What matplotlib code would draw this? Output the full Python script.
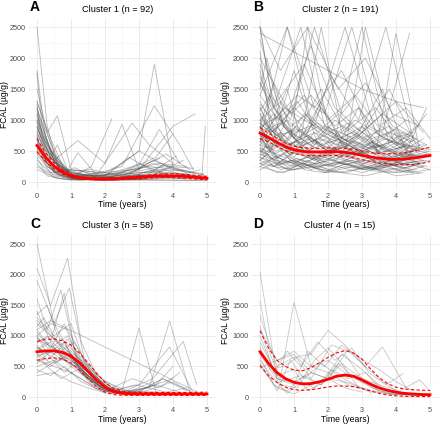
import numpy as np
import matplotlib
matplotlib.use("Agg")
import matplotlib.pyplot as plt

plt.rcParams['font.family'] = ['Liberation Sans', 'DejaVu Sans']

# --- individual trajectories (time in years, FCAL in ug/g) ---
traces_a = [
    ([0, 0.3, 0.6, 1.0, 1.5, 2.0], [2500, 900, 300, 150, 100, 80]),
    ([0, 0.25, 0.5, 0.8, 1.2], [1800, 700, 350, 120, 60]),
    ([0, 0.3, 0.6, 1.0, 2.0, 2.5, 3.0, 3.45, 4.0], [1300, 800, 1070, 200, 150, 300, 500, 1900, 250]),
    ([0, 0.4, 0.9, 1.5, 2.5, 3.45, 4.2, 4.6], [1200, 500, 200, 100, 250, 1230, 600, 200]),
    ([0, 0.5, 1.0, 2.0, 3.0, 4.0, 4.65], [1100, 400, 120, 80, 200, 900, 1100]),
    ([0, 0.6, 1.1, 1.6, 2.2], [1000, 300, 100, 250, 1020]),
    ([0, 0.5, 1.2, 2.0, 2.5, 3.0], [950, 350, 670, 300, 930, 200]),
    ([0, 0.4, 1.0, 2.0, 3.0, 4.0, 4.85, 4.95], [900, 400, 100, 50, 100, 150, 80, 900]),
    ([0, 0.3, 0.8, 1.5, 2.5, 3.5, 4.0], [850, 500, 200, 80, 150, 400, 780]),
    ([0, 0.5, 1.0, 1.8, 2.8, 3.3, 4.0], [800, 200, 100, 150, 950, 600, 300]),
    ([0, 0.2, 0.7, 1.2, 2.0, 3.0, 4.0, 5.0], [750, 350, 150, 60, 40, 60, 100, 50]),
    ([0, 0.5, 1.0, 2.0, 3.0, 3.6, 4.2], [700, 150, 80, 120, 280, 850, 300]),
    ([0, 0.3, 0.6, 1.0, 2.0, 3.0, 4.0, 5.0], [650, 300, 600, 60, 100, 500, 200, 100]),
    ([0, 0.4, 0.9, 1.4, 2.4, 3.1, 3.8, 4.5], [600, 200, 80, 50, 60, 250, 450, 200]),
    ([0, 0.5, 1.0, 1.5, 2.0, 3.0, 4.0, 5.0], [550, 150, 50, 40, 30, 40, 60, 40]),
    ([0, 0.3, 0.8, 1.2, 1.8, 2.5, 3.2, 4.1], [500, 250, 100, 470, 80, 150, 100, 420]),
    ([0, 0.4, 1.0, 2.0, 2.7, 3.5, 4.3], [450, 150, 200, 100, 400, 150, 350]),
    ([0, 0.2, 0.5, 1.0, 1.5, 2.0, 3.0, 4.0, 4.8], [400, 200, 120, 60, 40, 60, 40, 80, 200]),
    ([0, 0.5, 1.0, 2.0, 3.0, 4.0, 5.0], [350, 100, 50, 30, 40, 30, 20]),
    ([0, 0.3, 0.7, 1.3, 2.2, 3.0, 3.9, 4.7], [300, 100, 50, 30, 80, 300, 100, 60]),
    ([0, 0.5, 1.0, 1.6, 2.3, 3.3, 4.4], [250, 80, 30, 60, 30, 100, 50]),
    ([0, 0.6, 1.2, 2.0, 2.9, 3.7, 4.5], [200, 60, 30, 50, 100, 200, 100]),
    ([0, 0.1, 0.4, 0.8, 1.0, 1.5, 2.0], [1200, 800, 400, 150, 60, 40, 30]),
    ([0, 0.2, 0.5, 0.9, 1.4, 2.1, 2.9, 3.6], [1150, 900, 500, 100, 180, 120, 220, 380]),
    ([0, 0.3, 0.7, 1.0, 1.6, 2.5, 3.5, 4.5], [1050, 600, 250, 180, 200, 100, 80, 60]),
    ([0, 0.2, 0.5, 1.0, 2.0, 3.0, 3.9], [980, 500, 180, 80, 60, 120, 90]),
    ([0, 0.4, 0.8, 1.3, 2.0, 3.0, 4.0, 5.0], [880, 400, 150, 90, 70, 160, 140, 90]),
    ([0, 0.3, 0.9, 1.7, 2.6, 3.4, 4.2, 4.9], [820, 350, 90, 60, 120, 300, 200, 130]),
    ([0, 0.2, 0.6, 1.1, 1.9, 2.8, 3.7], [720, 450, 200, 70, 50, 90, 250]),
    ([0, 0.3, 0.6, 1.2, 2.1, 3.2, 4.3], [680, 300, 120, 40, 30, 60, 100]),
    ([0, 0.5, 1.0, 1.5, 2.5, 3.5, 4.5, 5.0], [620, 220, 90, 60, 80, 120, 110, 70]),
    ([0, 0.4, 0.7, 1.1, 1.8, 2.6, 3.4, 4.4], [580, 300, 150, 230, 60, 80, 350, 150]),
    ([0, 0.3, 0.8, 1.5, 2.3, 3.1, 4.0, 4.6], [530, 250, 70, 40, 50, 40, 250, 220]),
    ([0, 0.6, 1.3, 2.0, 3.0, 4.0, 5.0], [480, 120, 40, 30, 30, 30, 30]),
    ([0, 0.4, 0.9, 1.7, 2.7, 3.6, 4.3], [1300, 700, 90, 50, 70, 150, 60]),
    ([0, 0.2, 0.6, 1.0, 1.5, 2.5, 3.5, 4.5], [1250, 600, 300, 110, 100, 120, 180, 100]),
    ([0, 0.3, 0.5, 1.0, 2.0, 3.0, 4.0], [1500, 800, 450, 130, 90, 110, 80]),
    ([0, 0.15, 0.5, 0.9, 1.3], [1750, 900, 350, 120, 60]),
    ([0, 0.3, 0.7, 1.2, 1.9, 2.8, 3.6, 4.4], [900, 450, 200, 90, 150, 200, 300, 250]),
    ([0, 0.2, 0.6, 1.0, 1.7, 2.5, 3.3, 4.1, 4.9], [1100, 700, 350, 150, 100, 160, 250, 200, 120]),
    ([0, 0.4, 0.8, 1.4, 2.2, 3.0, 3.8, 4.6], [760, 380, 180, 120, 90, 180, 270, 150]),
    ([0, 0.3, 0.6, 1.1, 1.8, 2.6, 3.5, 4.3], [1000, 550, 260, 110, 70, 90, 200, 180]),
]

traces_b = [
    ([0, 0.4, 0.9, 1.5, 2.0, 2.6, 3.1, 3.7, 4.3, 4.9], [2500, 1200, 800, 600, 900, 500, 700, 400, 600, 500]),
    ([0, 0.3, 0.8, 1.2, 1.8, 2.4, 3.0, 3.6, 4.2, 4.8], [2100, 900, 1500, 700, 2500, 800, 600, 900, 500, 700]),
    ([0, 0.5, 1.0, 1.6, 2.2, 2.9, 3.5, 4.1, 4.7], [1800, 600, 400, 800, 500, 1200, 400, 300, 600]),
    ([0, 0.2, 0.7, 1.3, 1.9, 2.5, 3.2, 3.8, 4.4, 5.0], [1500, 2000, 900, 500, 700, 400, 600, 350, 450, 400]),
    ([0, 0.4, 1.0, 1.7, 2.3, 3.0, 3.7, 4.5], [1200, 700, 1800, 600, 400, 900, 300, 500]),
    ([0, 0.3, 0.9, 1.4, 2.0, 2.7, 3.3, 4.0, 4.6], [1000, 500, 700, 2500, 900, 600, 400, 800, 300]),
    ([0, 0.5, 1.1, 1.8, 2.5, 3.1, 3.9, 4.6], [900, 400, 600, 300, 500, 2500, 700, 400]),
    ([0, 0.4, 0.8, 1.4, 2.1, 2.8, 3.4, 4.0, 4.7], [850, 1100, 500, 400, 300, 600, 450, 2400, 500]),
    ([0, 0.6, 1.2, 1.9, 2.6, 3.3, 4.0, 4.8], [800, 300, 250, 500, 350, 200, 400, 300]),
    ([0, 0.3, 0.7, 1.2, 1.7, 2.3, 2.9, 3.5, 4.2, 4.9], [750, 500, 900, 600, 400, 700, 500, 300, 450, 600]),
    ([0, 0.5, 1.0, 1.5, 2.1, 2.7, 3.4, 4.1, 4.8], [700, 350, 300, 450, 250, 400, 600, 300, 350]),
    ([0, 0.4, 0.9, 1.6, 2.2, 2.9, 3.6, 4.4], [650, 900, 400, 300, 500, 350, 250, 400]),
    ([0, 0.3, 0.8, 1.4, 2.0, 2.6, 3.3, 4.0, 4.7], [600, 400, 250, 350, 200, 300, 400, 250, 300]),
    ([0, 0.5, 1.1, 1.7, 2.4, 3.0, 3.8, 4.5], [550, 300, 500, 350, 600, 400, 300, 200]),
    ([0, 0.4, 1.0, 1.6, 2.3, 3.0, 3.6, 4.3, 5.0], [500, 250, 200, 300, 250, 150, 250, 300, 200]),
    ([0, 0.3, 0.9, 1.5, 2.1, 2.8, 3.5, 4.2, 4.9], [450, 700, 350, 250, 400, 300, 200, 350, 250]),
    ([0, 0.6, 1.3, 2.0, 2.7, 3.4, 4.1, 4.8], [400, 200, 300, 150, 250, 200, 150, 250]),
    ([0, 0.4, 0.8, 1.3, 1.9, 2.5, 3.1, 3.8, 4.6], [350, 250, 400, 200, 150, 300, 200, 150, 200]),
    ([0, 0.5, 1.0, 1.7, 2.4, 3.1, 3.9, 4.7], [300, 150, 200, 250, 150, 100, 200, 150]),
    ([0, 0.3, 0.7, 1.2, 1.8, 2.5, 3.2, 4.0, 4.8], [250, 200, 150, 300, 200, 150, 250, 100, 150]),
    ([0, 0.4, 1.0, 1.6, 2.2, 2.8, 3.4, 4.0, 4.6], [1100, 800, 1200, 900, 700, 1000, 800, 600, 900]),
    ([0, 0.3, 0.8, 1.3, 1.9, 2.6, 3.2, 3.9, 4.5], [1300, 1000, 700, 1100, 800, 600, 900, 700, 800]),
    ([0, 0.5, 1.1, 1.6, 2.2, 2.9, 3.5, 4.2, 4.9], [950, 700, 900, 600, 1000, 700, 500, 800, 600]),
    ([0, 0.4, 0.9, 1.5, 2.1, 2.7, 3.4, 4.1, 4.7], [1050, 800, 600, 900, 650, 800, 550, 700, 450]),
    ([0, 0.3, 0.7, 1.2, 1.8, 2.4, 3.0, 3.7, 4.4], [2500, 1500, 900, 700, 1300, 600, 800, 500, 700]),
    ([0, 0.5, 1.2, 1.9, 2.6, 3.3, 4.0, 4.7], [600, 500, 700, 450, 600, 350, 500, 400]),
    ([0, 0.4, 0.9, 1.4, 2.0, 2.7, 3.3, 4.0, 4.8], [800, 600, 450, 700, 550, 400, 650, 450, 350]),
    ([0, 0.3, 0.8, 1.5, 2.1, 2.8, 3.5, 4.2, 4.9], [700, 550, 800, 500, 400, 550, 350, 450, 550]),
    ([0, 0.6, 1.2, 1.8, 2.5, 3.2, 3.9, 4.6], [500, 700, 450, 600, 350, 500, 300, 400]),
    ([0, 0.4, 1.0, 1.7, 2.4, 3.0, 3.7, 4.4, 5.0], [450, 350, 550, 400, 500, 300, 400, 250, 350]),
    ([0, 0.3, 0.9, 1.5, 2.2, 2.9, 3.6, 4.3], [2000, 1700, 1100, 1400, 900, 1200, 700, 1000]),
    ([0, 0.5, 1.1, 1.7, 2.3, 3.0, 3.8, 4.5], [1600, 1000, 1300, 800, 1100, 700, 900, 600]),
    ([0, 0.8, 1.6, 2.4, 3.2, 4.0, 4.8], [1400, 2500, 1200, 1800, 900, 1300, 800]),
    ([0, 0.4, 1.0, 1.8, 2.5, 3.4, 4.2, 4.9], [900, 1600, 700, 1500, 800, 1200, 600, 1100]),
    ([0, 0.3, 0.9, 1.6, 2.4, 3.1, 3.9, 4.6], [1150, 1400, 1000, 2500, 1100, 1600, 900, 700]),
    ([0, 0.5, 1.3, 2.0, 2.8, 3.6, 4.4], [2300, 1300, 1900, 1000, 1400, 800, 2400]),
    ([0, 0.7, 1.5, 2.2, 3.0, 3.8, 4.6], [1700, 900, 2200, 1200, 800, 1500, 600]),
    ([0, 0.4, 1.1, 1.9, 2.7, 3.5, 4.3, 5.0], [1250, 1000, 1400, 1100, 2500, 900, 1200, 700]),
    ([0, 0.6, 1.4, 2.3, 3.1, 3.9, 4.7], [2500, 1800, 2500, 1500, 2000, 1100, 900]),
    ([0, 1.0, 2.0, 3.0, 4.0, 4.8], [2400, 2100, 1800, 1500, 1300, 1200]),
    ([0, 0.5, 1.2, 2.1, 3.0, 4.0], [300, 400, 250, 350, 200, 300]),
    ([0, 0.4, 0.9, 1.5, 2.2, 2.8, 3.5, 4.3, 5.0], [200, 300, 200, 250, 150, 200, 300, 150, 200]),
    ([0, 0.3, 0.8, 1.4, 2.0, 2.7, 3.4, 4.1, 4.8], [350, 500, 300, 400, 250, 350, 200, 300, 250]),
    ([0, 0.5, 1.0, 1.6, 2.3, 3.0, 3.7, 4.5], [400, 300, 350, 250, 300, 250, 200, 250]),
    ([0, 0.4, 1.0, 1.5, 2.1, 2.8, 3.5, 4.2, 4.9], [550, 450, 600, 400, 350, 500, 300, 400, 450]),
    ([0, 0.3, 0.7, 1.3, 2.0, 2.6, 3.3, 4.0, 4.7], [650, 500, 400, 550, 450, 600, 400, 350, 500]),
    ([0, 0.6, 1.2, 1.9, 2.5, 3.1, 3.8, 4.6], [750, 600, 650, 500, 550, 450, 500, 400]),
    ([0, 0.4, 0.9, 1.4, 2.0, 2.7, 3.4, 4.1, 4.8], [850, 650, 550, 700, 500, 650, 450, 550, 600]),
    ([0, 0.5, 1.1, 1.8, 2.4, 3.2, 3.9, 4.6], [1000, 750, 850, 600, 700, 550, 650, 500]),
    ([0, 0.3, 0.9, 1.6, 2.3, 3.0, 3.7, 4.4, 5.0], [1200, 900, 600, 800, 650, 500, 700, 550, 450]),
    ([0.1, 0.8, 1.5, 2.2, 2.9, 3.6, 4.3, 4.9], [900, 2500, 1000, 600, 800, 1500, 500, 1200]),
    ([0, 0.7, 1.6, 2.5, 3.4, 4.3], [700, 1200, 900, 2500, 800, 500]),
    ([0, 0.5, 1.3, 2.2, 3.0, 3.8, 4.5], [600, 900, 1400, 700, 2500, 600, 400]),
    ([0, 0.4, 1.2, 1.9, 2.8, 3.6, 4.4], [1900, 1200, 2500, 900, 700, 1100, 800]),
    ([0, 0.6, 1.4, 2.1, 2.9, 3.7, 4.5], [1000, 1300, 800, 1700, 1000, 2500, 700]),
    ([0, 0.3, 0.8, 1.3, 1.9, 2.5, 3.1, 3.8, 4.5], [250, 350, 200, 300, 150, 250, 200, 300, 150]),
    ([0, 0.5, 1.0, 1.6, 2.2, 2.9, 3.5, 4.2, 4.9], [500, 400, 300, 450, 350, 250, 400, 300, 350]),
    ([0, 0.4, 0.9, 1.5, 2.1, 2.7, 3.4, 4.1, 4.7], [300, 250, 350, 200, 300, 350, 250, 200, 300]),
    ([0, 0.2, 0.6, 1.1, 1.7, 2.3, 2.9, 3.6, 4.3, 5.0], [900, 650, 800, 550, 700, 600, 450, 600, 400, 500]),
    ([0, 0.3, 0.8, 1.4, 2.0, 2.6, 3.2, 3.9, 4.6], [650, 850, 600, 750, 500, 700, 550, 400, 550]),
    ([0, 0.4, 0.9, 1.5, 2.1, 2.8, 3.5, 4.2, 4.9], [1100, 700, 500, 650, 800, 450, 600, 350, 450]),
    ([0, 0.2, 0.7, 1.2, 1.8, 2.4, 3.0, 3.7, 4.4], [780, 550, 650, 850, 600, 500, 750, 500, 600]),
    ([0, 0.5, 1.0, 1.6, 2.2, 2.8, 3.4, 4.0, 4.7], [420, 600, 500, 350, 550, 400, 300, 450, 300]),
    ([0, 0.3, 0.8, 1.3, 1.9, 2.5, 3.2, 3.9, 4.6], [950, 800, 1000, 750, 600, 900, 650, 500, 700]),
    ([0, 0.4, 1.0, 1.7, 2.4, 3.1, 3.8, 4.5], [1400, 1100, 800, 950, 700, 600, 800, 650]),
    ([0, 0.3, 0.7, 1.2, 1.8, 2.5, 3.1, 3.8, 4.5], [520, 380, 450, 300, 420, 280, 350, 250, 320]),
    ([0, 0.5, 1.1, 1.7, 2.3, 2.9, 3.6, 4.3, 5.0], [880, 1050, 700, 900, 750, 550, 700, 600, 520]),
    ([0, 0.4, 0.9, 1.4, 2.0, 2.6, 3.3, 4.0, 4.7], [1600, 1200, 900, 1100, 800, 950, 700, 850, 600]),
    ([0, 0.2, 0.6, 1.1, 1.7, 2.3, 3.0, 3.7, 4.4], [350, 450, 280, 380, 250, 320, 220, 300, 200]),
    ([0, 0.6, 1.2, 1.8, 2.4, 3.0, 3.7, 4.4], [820, 950, 600, 1200, 700, 900, 550, 750]),
]

traces_c = [
    ([0, 0.5, 1.0, 1.5, 2.0, 2.5], [2500, 1200, 700, 300, 100, 50]),
    ([0, 0.4, 0.9, 1.3, 1.8, 2.4, 3.0], [2100, 1500, 2270, 900, 300, 80, 50]),
    ([0, 0.5, 0.95, 1.4, 2.0, 2.6], [1900, 1200, 1780, 600, 150, 60]),
    ([0, 0.3, 0.7, 1.1, 1.6, 2.2, 2.8], [1600, 1100, 1750, 800, 400, 100, 60]),
    ([0, 0.4, 0.8, 1.2, 1.8, 2.5, 3.3, 3.9, 4.5], [1400, 900, 1700, 500, 200, 80, 150, 1240, 80]),
    ([0, 0.5, 1.0, 1.5, 2.2, 3.0, 3.9, 4.6], [1300, 1000, 1200, 400, 100, 200, 820, 60]),
    ([0, 0.4, 4.8], [1100, 1250, 60]),
    ([0, 0.6, 1.2, 1.9, 2.5, 3.0, 3.5], [1250, 900, 600, 300, 100, 1130, 80]),
    ([0, 0.4, 0.9, 1.4, 2.0, 2.6, 3.4, 4.3, 4.7], [1100, 800, 1000, 500, 200, 100, 300, 910, 200]),
    ([0, 0.3, 0.8, 1.3, 1.9, 2.7, 3.5, 4.0], [1000, 700, 900, 400, 150, 60, 200, 500]),
    ([0, 0.5, 1.0, 1.6, 2.3, 3.1], [950, 800, 600, 300, 80, 50]),
    ([0, 0.4, 0.9, 1.5, 2.1, 2.9, 3.7, 4.4], [900, 1000, 700, 350, 120, 60, 300, 100]),
    ([0, 0.3, 0.7, 1.2, 1.7, 2.3, 3.0], [850, 600, 800, 500, 200, 70, 50]),
    ([0, 0.5, 1.1, 1.7, 2.4, 3.2, 4.0], [800, 700, 500, 250, 80, 150, 300]),
    ([0, 0.4, 0.8, 1.3, 1.9, 2.6, 3.3], [750, 900, 600, 450, 150, 60, 50]),
    ([0, 0.3, 0.9, 1.4, 2.0, 2.8, 3.6, 4.2], [700, 500, 750, 400, 100, 300, 150, 400]),
    ([0, 0.5, 1.0, 1.5, 2.1, 2.8], [650, 800, 500, 300, 100, 50]),
    ([0, 0.4, 0.9, 1.4, 2.0, 2.7, 3.5], [600, 500, 700, 350, 120, 60, 80]),
    ([0, 0.3, 0.8, 1.2, 1.8, 2.5, 3.2, 4.0, 4.6], [550, 700, 400, 600, 200, 80, 100, 250, 60]),
    ([0, 0.5, 1.0, 1.6, 2.2, 3.0], [500, 600, 400, 200, 60, 50]),
    ([0, 0.4, 0.8, 1.3, 1.9, 2.6], [450, 350, 500, 250, 100, 50]),
    ([0, 0.3, 0.7, 1.2, 1.7, 2.4, 3.1, 3.8], [400, 500, 300, 450, 150, 60, 80, 50]),
    ([0, 0.5, 1.0, 1.5, 2.0, 2.7], [350, 400, 250, 150, 70, 50]),
    ([0, 0.4, 0.9, 1.5, 2.2, 3.0, 3.7], [1200, 1000, 800, 500, 150, 60, 50]),
    ([0, 0.2, 0.6, 1.0, 1.5, 2.0, 2.6, 3.4], [1150, 1300, 900, 700, 350, 120, 60, 250]),
    ([0, 0.4, 0.8, 1.2, 1.7, 2.3, 3.0], [1050, 800, 1200, 650, 300, 80, 60]),
    ([0, 0.5, 0.9, 1.4, 1.9, 2.5], [980, 700, 950, 400, 200, 60]),
    ([0, 0.3, 0.7, 1.1, 1.6, 2.2, 2.9, 3.8, 4.4], [880, 1000, 750, 900, 400, 100, 200, 80, 150]),
    ([0, 0.6, 1.1, 1.6, 2.2, 2.9, 3.7, 4.5], [820, 600, 700, 350, 80, 60, 300, 100]),
    ([0, 0.3, 0.8, 1.3, 1.8, 2.4, 3.1], [780, 900, 650, 500, 250, 70, 50]),
    ([0, 0.4, 1.0, 1.5, 2.1, 2.8, 3.6], [720, 550, 650, 300, 100, 50, 60]),
    ([0, 0.5, 1.0, 1.5, 2.0], [680, 750, 550, 300, 60]),
    ([0, 0.3, 0.6, 1.0, 1.4, 1.9, 2.5], [1350, 1500, 1000, 800, 500, 200, 60]),
    ([0, 0.5, 1.0, 1.8, 2.6, 3.5, 4.3, 4.8], [620, 500, 400, 120, 60, 200, 60, 50]),
    ([0, 0.4, 0.9, 1.4, 2.0, 2.7, 3.5, 4.2, 4.8], [1000, 1200, 1100, 600, 250, 100, 80, 60, 50]),
]

traces_d = [
    ([0, 0.5, 1.0, 1.5, 2.0, 2.5, 3.0], [2040, 300, 250, 400, 300, 150, 80]),
    ([0, 0.3, 0.6, 1.0, 1.5, 2.0, 2.5, 3.0, 3.5], [1570, 700, 300, 1550, 500, 600, 400, 250, 100]),
    ([0, 0.5, 1.0, 1.5, 2.0, 2.5, 3.0, 3.5, 4.0], [1330, 500, 650, 700, 1090, 850, 550, 300, 100]),
    ([0, 0.4, 0.8, 1.2, 1.7, 2.2, 2.7, 3.2, 3.7, 4.2], [1160, 400, 750, 500, 900, 600, 800, 400, 200, 380]),
    ([0, 0.5, 1.0, 1.5, 2.1, 2.6, 3.1, 3.6, 4.3], [1100, 600, 700, 300, 850, 750, 500, 820, 150]),
    ([0, 0.5, 1.0, 1.4, 1.9, 2.4, 2.9, 3.5, 4.0, 4.5], [1000, 300, 200, 750, 500, 850, 650, 450, 250, 100]),
    ([0, 0.6, 1.1, 1.6, 2.0, 2.5, 3.0, 3.5, 4.1, 4.7, 5.0], [700, 200, 150, 600, 800, 500, 300, 200, 100, 280, 100]),
    ([0, 0.5, 0.9, 1.3, 1.8, 2.3, 2.8, 3.3], [650, 100, 600, 300, 550, 350, 200, 60]),
    ([0, 0.4, 0.8, 1.3, 1.8, 2.3, 2.8, 3.3, 3.8, 4.3, 4.9], [550, 200, 100, 350, 200, 550, 300, 150, 50, 40, 30]),
    ([0, 0.5, 1.0, 1.5, 2.0, 2.5, 3.0, 3.5, 4.0, 4.5, 5.0], [500, 150, 50, 200, 300, 250, 150, 80, 40, 30, 20]),
    ([0, 0.4, 0.8, 1.2, 1.6, 2.1, 2.6, 3.1, 3.6, 4.1, 4.6], [600, 300, 60, 250, 150, 450, 300, 400, 100, 50, 30]),
    ([0, 0.5, 1.0, 1.4, 1.9, 2.4, 2.9], [750, 350, 450, 100, 250, 550, 150]),
    ([0, 0.6, 1.2, 1.8, 2.4, 3.0, 3.6, 4.2, 4.8], [900, 250, 350, 200, 700, 450, 150, 50, 30]),
    ([0, 0.5, 1.0, 1.5, 2.0, 2.6, 3.2, 3.8, 4.4, 5.0], [480, 600, 750, 500, 400, 200, 100, 50, 30, 20]),
    ([0, 0.3, 0.7, 1.1, 1.5, 2.0, 2.5, 3.0, 3.5, 4.0], [820, 450, 500, 650, 400, 300, 700, 300, 100, 50]),
]

# --- fitted mean curve and 95% band, read every 0.25 years ---
t_fit = [0, 0.25, 0.5, 0.75, 1.0, 1.25, 1.5, 1.75, 2.0, 2.25, 2.5,
         2.75, 3.0, 3.25, 3.5, 3.75, 4.0, 4.25, 4.5, 4.75, 5.0]

mean_a = [590, 400, 260, 160, 100, 70, 55, 50, 50, 52, 58, 66, 76, 86, 95, 100, 100, 95, 85, 72, 60]
upper_a = [700, 470, 310, 195, 125, 90, 72, 66, 66, 68, 76, 86, 98, 110, 122, 130, 132, 128, 118, 102, 85]
lower_a = [490, 335, 215, 128, 78, 52, 40, 36, 36, 37, 42, 48, 56, 63, 70, 74, 72, 66, 56, 45, 38]

mean_b = [790, 720, 640, 570, 520, 495, 485, 485, 490, 490, 480, 460, 430, 405, 385, 370, 365, 370, 385, 405, 430]
upper_b = [880, 790, 705, 630, 580, 555, 545, 545, 550, 550, 545, 530, 500, 475, 460, 455, 460, 475, 500, 530, 560]
lower_b = [700, 650, 575, 510, 460, 435, 425, 425, 430, 430, 415, 390, 360, 335, 310, 290, 280, 280, 285, 300, 330]

mean_c = [740, 755, 755, 730, 670, 560, 420, 280, 160, 90, 60, 52, 50, 50, 50, 50, 50, 50, 50, 50, 50]
upper_c = [910, 940, 950, 920, 850, 720, 560, 390, 240, 140, 95, 80, 75, 75, 75, 75, 75, 75, 75, 78, 80]
lower_c = [600, 630, 640, 620, 560, 440, 300, 170, 80, 40, 30, 28, 28, 28, 28, 28, 28, 28, 28, 28, 28]

mean_d = [740, 550, 400, 300, 240, 215, 220, 250, 290, 340, 360, 340, 280, 210, 150, 110, 80, 60, 50, 42, 38]
upper_d = [1080, 800, 600, 500, 440, 430, 480, 560, 650, 720, 760, 720, 620, 460, 320, 220, 160, 130, 120, 112, 108]
lower_d = [520, 350, 240, 160, 120, 110, 120, 140, 165, 180, 180, 170, 140, 100, 60, 35, 20, 12, 10, 8, 8]

titles = ["Cluster 1 (n = 92)", "Cluster 2 (n = 191)", "Cluster 3 (n = 58)", "Cluster 4 (n = 15)"]
letters = ["A", "B", "C", "D"]

panels = [
    (traces_a, mean_a, upper_a, lower_a),
    (traces_b, mean_b, upper_b, lower_b),
    (traces_c, mean_c, upper_c, lower_c),
    (traces_d, mean_d, upper_d, lower_d),
]
line_alpha = [0.38, 0.38, 0.35, 0.3]

W, H = 440, 426
fig = plt.figure(figsize=(W / 100, H / 100), dpi=100)

# axes boxes in pixels: left, top, right, bottom
boxes = [(28.5, 19.3, 215.5, 189.8), (251.5, 19.3, 438.5, 189.8),
         (28.5, 236.4, 215.5, 404.7), (251.5, 236.4, 438.5, 404.7)]
title_x = [118, 340, 118, 340]
title_y = [9, 9, 226, 226]
letter_x = [35, 258, 35, 258]
letter_y = [7, 7, 224, 224]
ylab_x = [9.5, 229.5, 9.5, 229.5]   # right edge of the rotated y label, px

for k, ((traces, m, up, lo), box) in enumerate(zip(panels, boxes)):
    l, t, r, b = box
    ax = fig.add_axes([l / W, 1 - b / H, (r - l) / W, (b - t) / H])

    ax.set_xlim(-0.25, 5.25)
    ax.set_ylim(-125, 2625)
    ax.set_xticks(range(6))
    ax.set_yticks([0, 500, 1000, 1500, 2000, 2500])
    ax.set_xticks(np.arange(0.5, 5, 1), minor=True)
    ax.set_yticks(np.arange(250, 2500, 500), minor=True)
    ax.grid(which='major', color='#EBEBEB', lw=0.7)
    ax.grid(which='minor', color='#F2F2F2', lw=0.4)
    ax.set_axisbelow(True)
    for s in ax.spines.values():
        s.set_visible(False)
    ax.tick_params(which='both', length=0, labelsize=5.2, labelcolor='#4D4D4D', pad=2)

    for tt, vv in traces:
        ax.plot(tt, np.minimum(vv, 2500), color='#4a4a4a', alpha=line_alpha[k], lw=0.6)

    ax.plot(t_fit, up, color='#FF0000', lw=0.8, ls=(0, (3, 2)))
    ax.plot(t_fit, lo, color='#FF0000', lw=0.8, ls=(0, (3, 2)))
    ax.plot(t_fit, m, color='#FF0000', lw=2.0)

    ax.set_xlabel("Time (years)", fontsize=6.2, labelpad=0.3)
    ax.set_ylabel("FCAL (µg/g)", fontsize=6.2)
    ax.yaxis.set_label_coords((ylab_x[k] - l) / (r - l), 0.5)

    fig.text(title_x[k] / W, 1 - title_y[k] / H, titles[k], ha='center', va='center', fontsize=6.6)
    fig.text(letter_x[k] / W, 1 - letter_y[k] / H, letters[k],
             ha='center', va='center', fontsize=10, fontweight='bold')

fig.savefig("out.png", dpi=100)
